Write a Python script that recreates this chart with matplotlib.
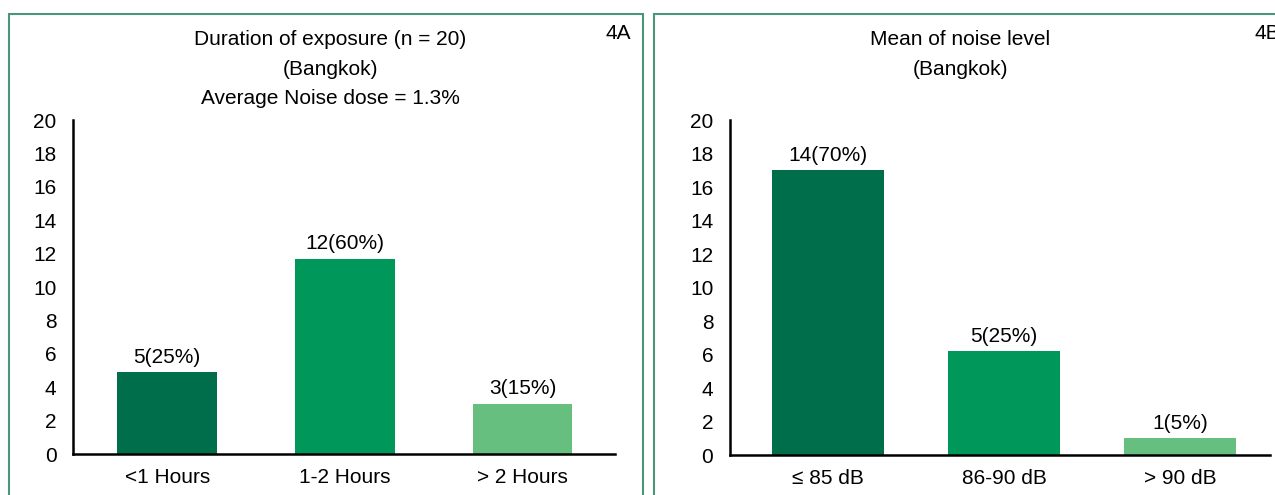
import matplotlib.pyplot as plt
from matplotlib.patches import Rectangle

plt.rcParams['font.family'] = ['Liberation Sans Narrow', 'Liberation Sans', 'DejaVu Sans']

# panel 4A: duration of exposure
dur_labels = ['<1 Hours', '1-2 Hours', '> 2 Hours']
dur_heights = [4.9, 11.7, 3.0]
dur_text = ['5(25%)', '12(60%)', '3(15%)']

# panel 4B: mean noise level
noise_labels = ['≤ 85 dB', '86-90 dB', '> 90 dB']
noise_heights = [17.0, 6.2, 1.0]
noise_text = ['14(70%)', '5(25%)', '1(5%)']

colors = ['#006e4b', '#00975a', '#66bf7e']
border = '#4a9678'

fig = plt.figure(figsize=(12.75, 4.95), dpi=100)

# green frames round each panel
fig.patches.append(Rectangle((0.007, -0.1), 0.497, 1.072, transform=fig.transFigure,
                             fill=False, edgecolor=border, lw=1.5))
fig.patches.append(Rectangle((0.513, -0.1), 0.6, 1.072, transform=fig.transFigure,
                             fill=False, edgecolor=border, lw=1.5))


def draw_panel(ax, labels, heights, texts, width, xlim):
    x = range(len(labels))
    bars = ax.bar(x, heights, width=width, color=colors)
    for b, t in zip(bars, texts):
        ax.annotate(t, (b.get_x() + b.get_width() / 2, b.get_height()),
                    xytext=(0, 4), textcoords='offset points',
                    ha='center', va='bottom', fontsize=15)
    ax.set_xticks(list(x))
    ax.set_xticklabels(labels, fontsize=15)
    ax.set_ylim(0, 20)
    ax.set_yticks(range(0, 21, 2))
    ax.tick_params(axis='y', labelsize=15, length=0, pad=12)
    ax.tick_params(axis='x', length=0, pad=10)
    ax.set_xlim(*xlim)
    for s in ['top', 'right']:
        ax.spines[s].set_visible(False)
    for s in ['left', 'bottom']:
        ax.spines[s].set_linewidth(1.8)
        ax.spines[s].set_color('black')


ax1 = fig.add_axes([0.0573, 0.0828, 0.4251, 0.6747])
draw_panel(ax1, dur_labels, dur_heights, dur_text, 0.56, (-0.53, 2.52))

ax2 = fig.add_axes([0.5725, 0.0808, 0.4235, 0.6767])
draw_panel(ax2, noise_labels, noise_heights, noise_text, 0.64, (-0.557, 2.51))

fig.text(0.259, 0.94, 'Duration of exposure (n = 20)\n(Bangkok)\nAverage Noise dose = 1.3%',
         ha='center', va='top', fontsize=15, linespacing=1.72)
fig.text(0.753, 0.94, 'Mean of noise level\n(Bangkok)',
         ha='center', va='top', fontsize=15, linespacing=1.72)
fig.text(0.485, 0.933, '4A', ha='center', va='center', fontsize=15)
fig.text(0.984, 0.933, '4B', ha='left', va='center', fontsize=15)

fig.savefig('out.png', dpi=100)
